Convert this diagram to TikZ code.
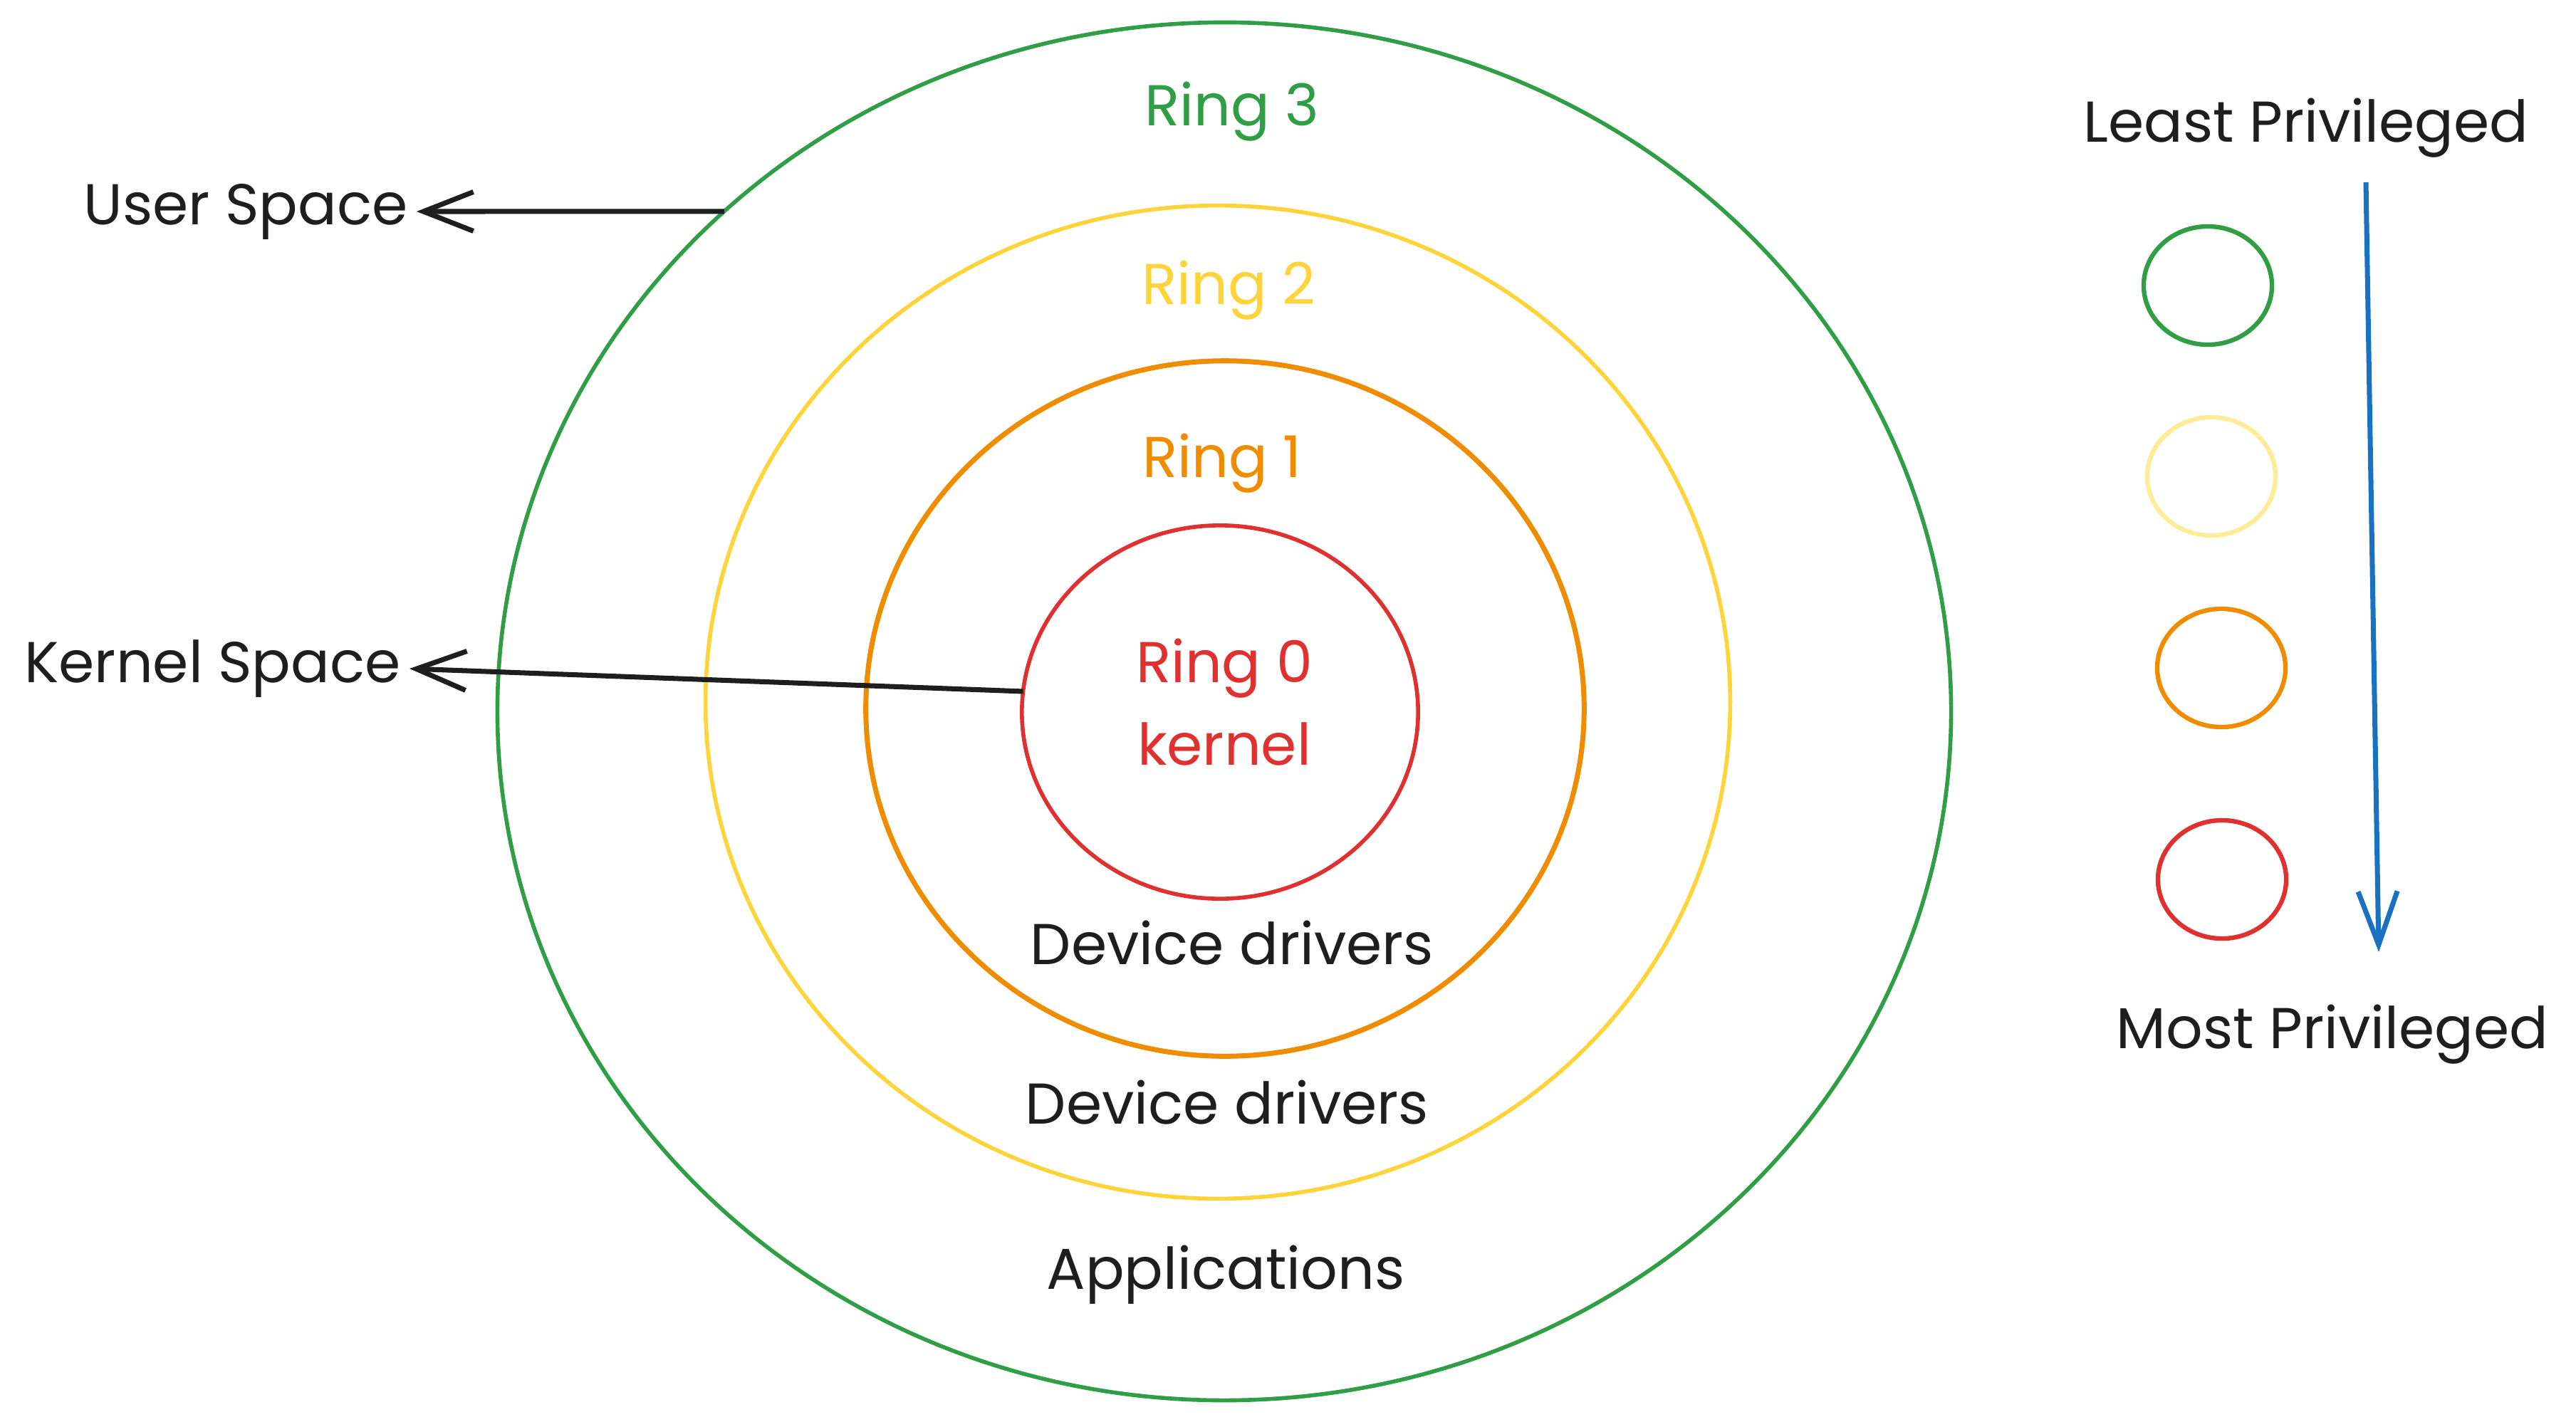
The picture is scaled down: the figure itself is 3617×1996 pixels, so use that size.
\documentclass[tikz,border=0pt]{standalone}
\usepackage{fontspec}
\setmainfont{Poppins}
\usetikzlibrary{arrows.meta,shapes.geometric}
\definecolor{ringgreen}{HTML}{2F9E44}
\definecolor{ringyellow}{HTML}{FFD43B}
\definecolor{ringorange}{HTML}{F08C00}
\definecolor{ringred}{HTML}{E03131}
\definecolor{paleyellow}{HTML}{FFEC99}
\definecolor{arrowblue}{HTML}{1971C2}
\definecolor{inkblack}{HTML}{1E1E1E}

\begin{document}
\begin{tikzpicture}[x=0.01cm,y=-0.01cm,
  ring/.style={draw,ellipse,line width=1.6pt,inner sep=0pt,outer sep=0pt},
  lbl/.style={font=\fontsize{23}{27}\selectfont,text=inkblack},
  arr/.style={-{Straight Barb[length=0.7cm,width=0.55cm,line width=2pt]},line width=2pt,inkblack}]
  \useasboundingbox (0,0) rectangle (3617,1996);
  % nested rings, outermost first
  \node[ring,ringgreen,minimum width=20.4cm,minimum height=19.34cm] (ring3) at (1719,999) {};
  \node[ring,ringyellow,minimum width=14.38cm,minimum height=13.94cm] (ring2) at (1710,986) {};
  \node[ring,ringorange,line width=2pt,minimum width=10.08cm,minimum height=9.76cm] (ring1) at (1720,995) {};
  \node[ring,ringred,minimum width=5.56cm,minimum height=5.24cm] (ring0) at (1713,1000) {};
  % ring names
  \node[lbl,text=ringgreen] (r3lbl) at (1730,157) {Ring 3};
  \node[lbl,text=ringyellow] (r2lbl) at (1725,408) {Ring 2};
  \node[lbl,text=ringorange] (r1lbl) at (1716,651) {Ring 1};
  \node[lbl,text=ringred] (r0lbl) at (1719,939) {Ring 0};
  \node[lbl,text=ringred] (kernlbl) at (1719,1045) {kernel};
  % what runs in each ring
  \node[lbl] (drv1) at (1730,1324) {Device drivers};
  \node[lbl] (drv2) at (1723,1548) {Device drivers};
  \node[lbl] (apps) at (1721,1790) {Applications};
  % spaces on the left
  \node[lbl,anchor=east] (user) at (585,297) {User Space};
  \node[lbl,anchor=east] (kern) at (575,939) {Kernel Space};
  \draw[arr] (ring3.135) -- (user.east);
  \draw[arr] (ring0.174) -- (kern.east);
  % legend
  \node[lbl] (least) at (3238,180) {Least Privileged};
  \node[lbl] (most) at (3275,1453) {Most Privileged};
  \foreach \nm/\cx/\cy/\col in {leg3/3100/401/ringgreen,leg2/3105/669/paleyellow,
      leg1/3119/938/ringorange,leg0/3120/1235/ringred}{
    \node[ring,\col,line width=1.8pt,minimum width=1.8cm,minimum height=1.66cm] (\nm) at (\cx,\cy) {};
  }
  \coordinate (privtop) at (3322,256);
  \coordinate (privbot) at (3340,1337);
  \draw[arr,arrowblue,-{Straight Barb[length=0.75cm,width=0.55cm,line width=2pt]}] (privtop) -- (privbot);
\end{tikzpicture}
\end{document}
